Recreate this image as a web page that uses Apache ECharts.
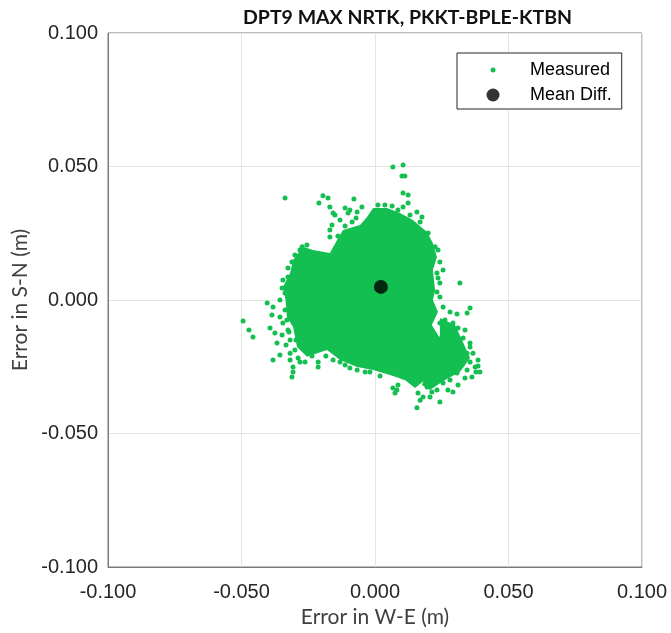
<!DOCTYPE html>
<html><head><meta charset="utf-8">
<script src="https://cdn.jsdelivr.net/npm/echarts@6/dist/echarts.min.js"></script>
<style>html,body{margin:0;padding:0;background:#fff}#c{width:671px;height:633px}</style>
</head><body><div id="c"></div>
<script>
const titleText = 'DPT9 MAX NRTK, PKKT-BPLE-KTBN';
const xAxisName = 'Error in W-E (m)';
const yAxisName = 'Error in S-N (m)';
const axisMin = -0.1, axisMax = 0.1, axisStep = 0.05;
const seriesNames = ['Measured', 'Mean Diff.'];
const meanDiff = [0.0022, 0.0049];

// outline of the saturated (fully overlapping) main part of the Measured cloud
const denseCore = [
  [-0.0007,0.0345],[0.0045,0.0345],[0.0094,0.0326],[0.0142,0.0300],[0.0195,0.0255],[0.0217,0.0213],
  [0.0232,0.0161],[0.0217,0.0112],[0.0225,0.0037],[0.0217,0.0000],[0.0236,-0.0045],[0.0213,-0.0094],
  [0.0243,-0.0142],[0.0228,-0.0195],[0.0206,-0.0243],[0.0187,-0.0300],[0.0150,-0.0330],[0.0112,-0.0300],
  [0.0056,-0.0281],[-0.0007,-0.0262],[-0.0067,-0.0251],[-0.0131,-0.0225],[-0.0180,-0.0187],[-0.0255,-0.0213],
  [-0.0292,-0.0176],[-0.0307,-0.0101],[-0.0330,-0.0064],[-0.0335,0.0000],[-0.0345,0.0049],[-0.0318,0.0101],
  [-0.0307,0.0150],[-0.0270,0.0199],[-0.0232,0.0187],[-0.0169,0.0176],[-0.0142,0.0225],[-0.0120,0.0262],
  [-0.0056,0.0281],[-0.0030,0.0311]
];
// outline of the saturated part of the south-east lobe
const denseLobe = [
  [0.0243,-0.0067],[0.0300,-0.0094],[0.0326,-0.0150],[0.0356,-0.0217],[0.0318,-0.0270],[0.0262,-0.0300],
  [0.0206,-0.0337],[0.0176,-0.0318],[0.0199,-0.0255],[0.0228,-0.0187],[0.0243,-0.0131]
];

// individually visible Measured points around the cloud
const measured = [
  [-0.0337,0.0382],[-0.0195,0.0390],[-0.0176,0.0382],[-0.0210,0.0363],[-0.0079,0.0378],[0.0037,0.0356],
  [0.0067,0.0498],[0.0105,0.0506],[0.0101,0.0464],[0.0112,0.0464],[0.0105,0.0401],[0.0124,0.0393],
  [0.0105,0.0348],[0.0124,0.0363],[-0.0169,0.0348],[-0.0157,0.0326],[-0.0112,0.0345],[-0.0169,0.0262],
  [-0.0169,0.0236],[-0.0139,0.0240],[-0.0273,0.0199],[-0.0255,0.0206],[-0.0311,0.0142],[-0.0326,0.0086],
  [-0.0348,0.0045],[-0.0337,0.0026],
  [-0.0150,0.0318],[-0.0131,0.0300],[-0.0101,0.0326],[-0.0086,0.0292],[-0.0161,0.0281],[-0.0112,0.0277],
  [-0.0071,0.0307],
  [0.0157,0.0330],[0.0176,0.0311],[0.0199,0.0251],[0.0225,0.0199],[0.0255,0.0112],[0.0232,0.0101],
  [0.0243,0.0064],[0.0318,0.0064],[0.0243,0.0011],
  [-0.0404,-0.0011],[-0.0382,-0.0026],[-0.0494,-0.0079],[-0.0386,-0.0056],[-0.0472,-0.0112],[-0.0457,-0.0139],
  [-0.0393,-0.0105],[-0.0356,-0.0064],[-0.0345,-0.0086],[-0.0375,-0.0124],[-0.0348,-0.0131],[-0.0367,-0.0161],
  [-0.0356,-0.0206],[-0.0382,-0.0225],[-0.0318,-0.0199],[-0.0307,-0.0251],[-0.0307,-0.0270],[-0.0311,-0.0288],
  [-0.0213,-0.0232],[-0.0213,-0.0251],[-0.0131,-0.0232],[-0.0112,-0.0243],[-0.0067,-0.0262],[-0.0019,-0.0270],
  [0.0067,-0.0330],[0.0082,-0.0337],[0.0075,-0.0348],[0.0086,-0.0318],[0.0105,-0.0288],[0.0131,-0.0300],
  [0.0255,-0.0026],[0.0281,-0.0045],[0.0307,-0.0052],[0.0345,-0.0049],[0.0356,-0.0030],[0.0292,-0.0086],
  [0.0243,-0.0086],[0.0311,-0.0105],[0.0270,-0.0124],[0.0300,-0.0161],[0.0356,-0.0161],[0.0330,-0.0187],
  [0.0367,-0.0199],[0.0386,-0.0225],[0.0375,-0.0251],[0.0345,-0.0262],[0.0337,-0.0292],[0.0307,-0.0273],
  [0.0281,-0.0300],[0.0255,-0.0311],[0.0232,-0.0337],[0.0206,-0.0363],[0.0180,-0.0363],[0.0243,-0.0382],
  [0.0157,-0.0404],[0.0161,-0.0348],[0.0195,-0.0326],[0.0217,-0.0273],[0.0243,-0.0251],[0.0270,-0.0225],
  [0.0217,-0.0213],[0.0180,-0.0187],[0.0232,-0.0161],[0.0195,-0.0139],[0.0169,-0.0251],[0.0281,-0.0251],
  [0.0318,-0.0225],[0.0345,-0.0199],[0.0330,-0.0142],[0.0356,-0.0176],[0.0307,-0.0206],[0.0232,-0.0300],
  [0.0270,-0.0270],[0.0195,-0.0225],[0.0142,-0.0288],
  [0.0262,-0.0075],[0.0288,-0.0131],[0.0318,-0.0169],[0.0262,-0.0187],[0.0292,-0.0232],[0.0356,-0.0232],
  [0.0378,-0.0270],[0.0311,-0.0318],[0.0273,-0.0337],[0.0213,-0.0345],[0.0169,-0.0375],[0.0247,-0.0199],
  [0.0273,-0.0165],[0.0337,-0.0112],[0.0386,-0.0247],[0.0393,-0.0270],[0.0363,-0.0288],[0.0326,-0.0243],
  [0.0262,-0.0288],[0.0292,-0.0345],
  [-0.0094,0.0337],[-0.0067,0.0330],[-0.0049,0.0348],[0.0011,0.0356],[0.0064,0.0352],[0.0086,0.0337],
  [0.0131,0.0318],[0.0169,0.0292],[0.0236,0.0187],[0.0243,0.0142],[0.0236,0.0082],[0.0232,0.0030],
  [-0.0318,-0.0150],[-0.0326,-0.0112],[-0.0337,-0.0037],[-0.0356,0.0000],[-0.0345,0.0075],[-0.0326,0.0120],
  [-0.0300,0.0169],[-0.0281,0.0187],[-0.0288,-0.0217],[-0.0262,-0.0232],[-0.0236,-0.0210],[-0.0184,-0.0210],
  [-0.0157,-0.0225],[-0.0094,-0.0255],[-0.0037,-0.0270],[0.0019,-0.0285],
  [-0.0330,-0.0075],[-0.0311,-0.0056],[-0.0333,-0.0169],[-0.0300,-0.0187],[-0.0318,-0.0225],[-0.0281,-0.0232],
  [-0.0296,-0.0150],[-0.0322,-0.0120]
];

const green = '#13bf50';
const chart = echarts.init(document.getElementById('c'), null, {renderer: 'canvas'});
const tickFmt = v => v.toFixed(3);
const axisCommon = {
  type: 'value', min: axisMin, max: axisMax, interval: axisStep,
  axisLine: {show: true, onZero: false, lineStyle: {color: '#7a7a7a', width: 1}},
  axisTick: {show: false},
  splitLine: {show: true, lineStyle: {color: '#e4e4e4', width: 1}},
  nameLocation: 'middle',
  nameTextStyle: {fontFamily: 'Lato', fontSize: 21, color: '#404040'}
};
const polygonItem = (outline) => (params, api) => {
  if (params.dataIndex !== 0) return;
  return {type: 'polygon', shape: {points: outline.map(p => api.coord(p))}, style: {fill: green}};
};
chart.setOption({
  animation: false,
  backgroundColor: '#fff',
  title: {
    text: titleText, left: 238, top: 3,
    textStyle: {fontFamily: 'Lato', fontWeight: 'bold', fontSize: 19.5, color: '#111'}
  },
  grid: {left: 108, top: 33, width: 534, height: 534, show: true, borderColor: '#7a7a7a', borderWidth: 1, backgroundColor: 'transparent'},
  legend: {
    left: 457, top: 53, orient: 'vertical',
    padding: [8, 10, 5, 7], itemGap: 7, itemWidth: 61, itemHeight: 14,
    borderColor: '#262626', borderWidth: 1, backgroundColor: '#fff',
    selectedMode: false,
    textStyle: {fontFamily: 'Liberation Sans', fontSize: 18, color: '#000'},
    data: [
      {name: seriesNames[0], icon: 'path://M0,0M61,14M26.5,7a2.5,2.5,0,1,0,5,0a2.5,2.5,0,1,0,-5,0Z'},
      {name: seriesNames[1], icon: 'path://M0,0M61,14M22.5,7a6.5,6.5,0,1,0,13,0a6.5,6.5,0,1,0,-13,0Z'}
    ]
  },
  xAxis: Object.assign({}, axisCommon, {
    name: xAxisName, nameGap: 31,
    axisLabel: {formatter: tickFmt, fontFamily: 'Liberation Sans', fontSize: 20, color: '#262626', margin: 15}
  }),
  yAxis: Object.assign({}, axisCommon, {
    name: yAxisName, nameGap: 72,
    axisLabel: {formatter: tickFmt, fontFamily: 'Liberation Sans', fontSize: 20, color: '#262626', margin: 10}
  }),
  series: [
    {
      name: 'MeasuredCore', type: 'custom', data: denseCore, z: 2, silent: true,
      renderItem: polygonItem(denseCore)
    },
    {
      name: 'MeasuredLobe', type: 'custom', data: denseLobe, z: 2, silent: true,
      renderItem: polygonItem(denseLobe)
    },
    {
      name: seriesNames[0], type: 'scatter', data: measured, symbol: 'circle', symbolSize: 5, z: 3,
      itemStyle: {color: green, opacity: 1}
    },
    {
      name: seriesNames[1], type: 'scatter', data: [meanDiff], symbol: 'circle', symbolSize: 14, z: 4,
      itemStyle: {color: '#000'}
    }
  ]
});
</script>
</body></html>
